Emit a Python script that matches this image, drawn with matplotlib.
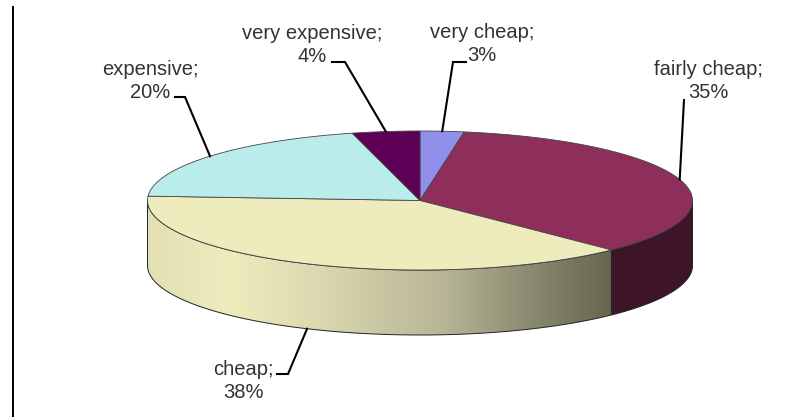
import numpy as np
import matplotlib
matplotlib.use("Agg")
import matplotlib.pyplot as plt
from matplotlib.colors import LinearSegmentedColormap
from matplotlib.patches import Polygon

labels = ["very cheap", "fairly cheap", "cheap", "expensive", "very expensive"]
shares = [2.6, 35.0, 38.4, 20.0, 4.0]
pct_labels = ["3%", "35%", "38%", "20%", "4%"]

top_colors = ["#9090EC", "#8E2F5B", "#EEECBD", "#BBECEC", "#5F0057"]
side_color = "#3D1428"

# ellipse of the pie in pixels
cx, cy, rx, ry, depth = 420, 200.5, 272.5, 69.5, 65


def rim(angle, drop=0):
    """Point on the rim, angle in degrees clockwise from the top."""
    a = np.radians(angle)
    return cx + rx * np.sin(a), cy - ry * np.cos(a) + drop


plt.rcParams['font.family'] = ['Liberation Sans', 'DejaVu Sans']
fig = plt.figure(figsize=(8.04, 4.17), dpi=100)
ax = fig.add_axes([0, 0, 1, 1])
ax.axis('off')

ax.plot([13, 13], [7, 417], color='black', lw=1.4)

edges = np.cumsum([0] + shares) * 3.6

# side walls
grad = LinearSegmentedColormap.from_list('side', [
    (0.0, '#E2E0B3'), (0.18, '#EEECBD'), (0.42, '#D5D3AB'),
    (0.65, '#B5B394'), (0.85, '#85856C'), (1.0, '#67674F')])
for i in [1, 2]:
    t = np.linspace(max(edges[i], 90), min(edges[i + 1], 270), 120)
    x, y = rim(t)
    x2, y2 = rim(t[::-1], depth)
    wall = Polygon(np.r_[np.c_[x, y], np.c_[x2, y2]], closed=True,
                   fc=side_color if i == 1 else 'none', ec='#222222', lw=0.7, zorder=2)
    ax.add_patch(wall)
    if i == 2:
        img = ax.imshow(np.linspace(0, 1, 256)[None, :], cmap=grad, aspect='auto',
                        extent=(x.min(), x.max(), cy + ry + depth, cy), zorder=1.5)
        img.set_clip_path(wall)

# imshow resets the limits
ax.set_xlim(0, 804)
ax.set_ylim(417, 0)

# top face
for i, col in enumerate(top_colors):
    t = np.linspace(edges[i], edges[i + 1], 120)
    x, y = rim(t)
    pts = np.r_[[[cx, cy]], np.c_[x, y]]
    ax.add_patch(Polygon(pts, closed=True, fc=col, ec='#444444', lw=0.6, zorder=3))

# leaders and labels
mids = (edges[:-1] + edges[1:]) / 2
elbows = [[(453, 62), (466, 62)], [(684, 100)], [(288, 374), (277, 374)],
          [(185, 97), (175, 97)], [(345, 62), (332, 62)]]
text_pos = [(482, 44), (708, 81), (243, 381), (150, 81), (312, 45)]
for i, name in enumerate(labels):
    drop = depth if 90 < mids[i] < 270 else 0
    x0, y0 = rim(mids[i], drop)
    px = [x0] + [p[0] for p in elbows[i]]
    py = [y0] + [p[1] for p in elbows[i]]
    ax.plot(px, py, color='black', lw=1.5, zorder=4, solid_joinstyle='miter')
    ax.text(text_pos[i][0], text_pos[i][1], f"{name};\n{pct_labels[i]}", ha='center', va='center',
            fontsize=14.5, color='#333333', linespacing=1.25, zorder=5)

plt.savefig('out.png', dpi=100)
